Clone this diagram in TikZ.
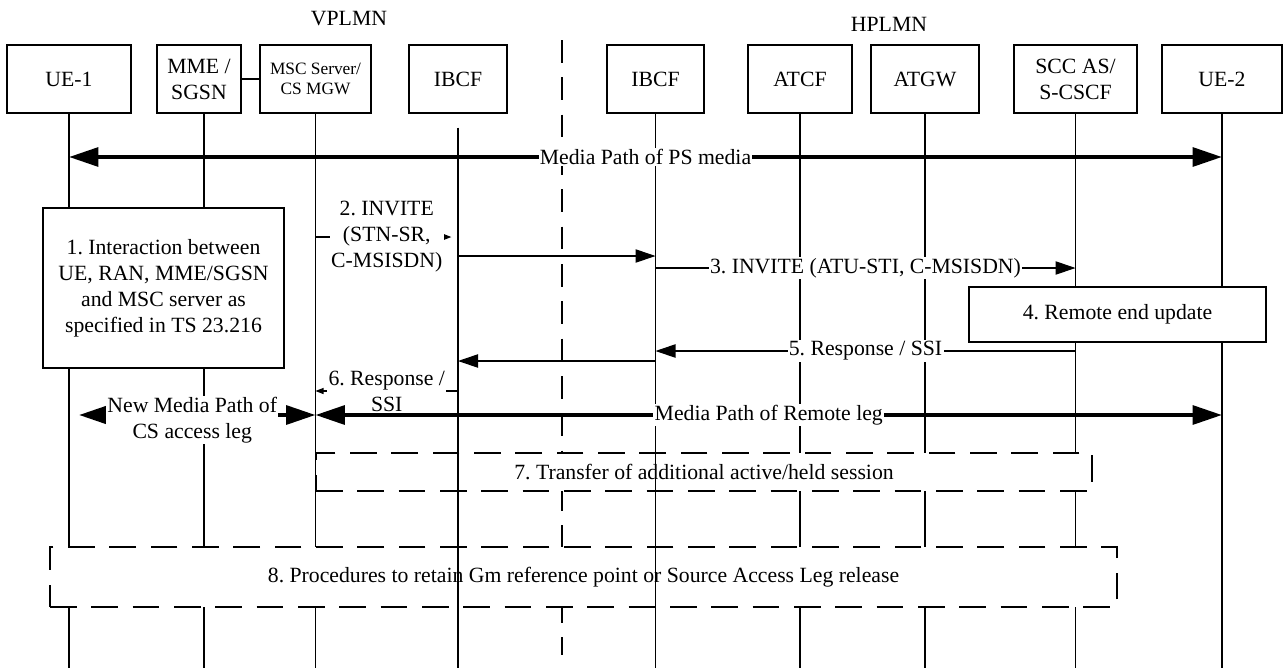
\documentclass[tikz,border=0pt]{standalone}
\usepackage{fontspec}
\setmainfont{Liberation Serif}
\usetikzlibrary{arrows.meta, positioning, calc}
\frenchspacing

\tikzset{
  entity/.style={rectangle, draw=black, fill=white, line width=1pt,
    align=center, minimum height=51pt, inner sep=1pt},
  stepbox/.style={rectangle, draw=black, fill=white, line width=1pt,
    align=center, inner sep=0pt},
  dashbox/.style={stepbox, dash pattern=on 20pt off 11pt},
  lifeline/.style={line width=0.8pt, color=black},
  divider/.style={line width=1pt, dash pattern=on 17pt off 11pt},
  msg/.style={-{Triangle[length=15pt, width=10pt]}, line width=0.8pt},
  smallmsg/.style={-{Triangle[length=6pt, width=4.5pt]}, line width=0.8pt},
  media/.style={{Triangle[length=22pt, width=14pt]}-{Triangle[length=22pt, width=14pt]}, line width=3pt},
  lbl/.style={fill=white, inner sep=1pt, align=center}
}

\begin{document}
\begin{tikzpicture}[x=0.75pt, y=-0.75pt, font=\fontsize{16.3}{19.5}\selectfont]
  \useasboundingbox (0,0) rectangle (1284,668);

  % Network labels
  \node (vplmn) at (349,19) {VPLMN};
  \node (hplmn) at (889,24) {HPLMN};

  % Entities
  \node[entity, minimum width=93pt] (ue1) at (69,79) {UE-1};
  \node[entity, minimum width=63pt] (mme) at (199,79) {MME /\\SGSN};
  \node[entity, minimum width=83.25pt, font=\fontsize{13}{15}\selectfont] (msc) at (315.5,79) {MSC Server/\\CS MGW};
  \node[entity, minimum width=73.5pt] (ibcfv) at (458,79) {IBCF};
  \node[entity, minimum width=72.75pt] (ibcfh) at (655.5,79) {IBCF};
  \node[entity, minimum width=78pt] (atcf) at (800,79) {ATCF};
  \node[entity, minimum width=81pt] (atgw) at (925,79) {ATGW};
  \node[entity, minimum width=92.25pt] (scc) at (1075.5,79) {SCC AS/\\S-CSCF};
  \node[entity, minimum width=90pt] (ue2) at (1222,79) {UE-2};
  \draw[lifeline] (mme) -- (msc);

  \coordinate (bottom) at (0,668);
  \coordinate (divtop) at (562,40);
  \coordinate (divbot) at (562,655);

  % Lifelines
  \foreach \n in {ue1, msc, atcf, atgw, scc, ue2}
    \draw[lifeline] (\n.south) -- (\n.south |- bottom);
  \draw[lifeline] ([xshift=3.75pt]mme.south) -- ([xshift=3.75pt]mme.south |- bottom);
  \draw[divider] (divtop) -- (divbot);

  % Procedure boxes
  \node[stepbox, minimum width=180.75pt, minimum height=120pt] (interact) at (163.5,288)
    {1. Interaction between\\UE, RAN, MME/SGSN\\and MSC server as\\specified in TS 23.216};
  \node[stepbox, minimum width=222.75pt, minimum height=41.25pt] (remote) at (1117.5,314.5) {4. Remote end update};
  \node[dashbox, minimum width=582pt, minimum height=28.5pt] (transfer) at (704,472)
    {7. Transfer of additional active/held session};
  \node[dashbox, minimum width=800.25pt, minimum height=45pt] (retain) at (583.5,577)
    {8. Procedures to retain Gm reference point or Source Access Leg release};

  \draw[lifeline] ([yshift=-10.5pt]ibcfv.south) -- (ibcfv.south |- bottom);
  \draw[lifeline] (ibcfh.south) -- (ibcfh.south |- bottom);

  % Message levels
  \coordinate (lvl-ps) at (0,157);
  \coordinate (lvl-m2) at (0,237);
  \coordinate (lvl-m2b) at (0,256);
  \coordinate (lvl-m3) at (0,268);
  \coordinate (lvl-m5) at (0,351);
  \coordinate (lvl-m5b) at (0,361);
  \coordinate (lvl-m6) at (0,391);
  \coordinate (lvl-cs) at (0,415);

  % Arrows
  \draw[media] (ue1 |- lvl-ps) -- node[lbl] {Media Path of PS media} (ue2 |- lvl-ps);
  \draw[smallmsg, shorten >=5pt] (msc |- lvl-m2) -- node[lbl] {2. INVITE\\(STN-SR,\\C-MSISDN)} (ibcfv |- lvl-m2);
  \draw[msg] (ibcfv |- lvl-m2b) -- (ibcfh |- lvl-m2b);
  \draw[msg] (ibcfh |- lvl-m3) -- node[lbl] {3. INVITE (ATU-STI, C-MSISDN)} (scc |- lvl-m3);
  \draw[msg] (scc |- lvl-m5) -- node[lbl] {5. Response / SSI} (ibcfh |- lvl-m5);
  \draw[msg] (ibcfh |- lvl-m5b) -- (ibcfv |- lvl-m5b);
  \draw[smallmsg] (ibcfv |- lvl-m6) -- node[lbl] {6. Response /\\SSI} (msc |- lvl-m6);
  \draw[media, shorten <=7.5pt] (ue1 |- lvl-cs) -- node[lbl, yshift=-3.75pt] {New Media Path of\\CS access leg} (msc |- lvl-cs);
  \draw[media] (msc |- lvl-cs) -- node[lbl] {Media Path of Remote leg} (ue2 |- lvl-cs);
\end{tikzpicture}
\end{document}
